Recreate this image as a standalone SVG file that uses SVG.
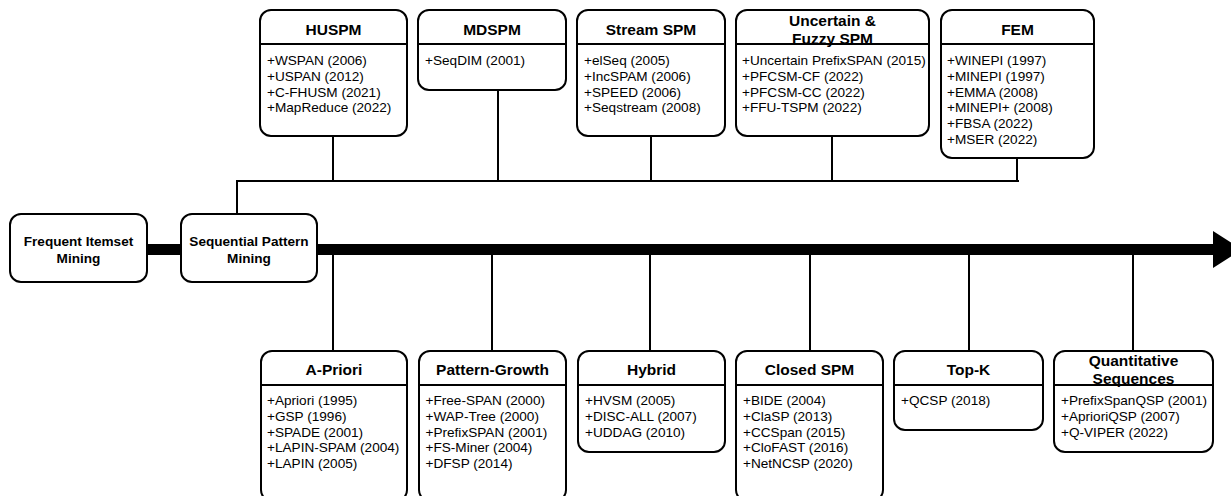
<svg xmlns="http://www.w3.org/2000/svg" width="1231" height="496" viewBox="0 0 1231 496">
  <style>
    .box { fill: #ffffff; stroke: #000000; stroke-width: 2; }
    .div { stroke: #000000; stroke-width: 2; fill: none; }
    .wire { stroke: #000000; stroke-width: 2; fill: none; }
    .hdr { font-family: "Liberation Sans", Arial, Helvetica, sans-serif; font-size: 15.5px; font-weight: bold; text-anchor: middle; fill: #000000; }
    .item { font-family: "Liberation Sans", Arial, Helvetica, sans-serif; font-size: 13.6px; fill: #000000; }
    .lbl { font-family: "Liberation Sans", Arial, Helvetica, sans-serif; font-size: 13.6px; font-weight: bold; text-anchor: middle; fill: #000000; }
  </style>
  <rect width="1231" height="496" fill="#ffffff"/>

  <!-- timeline and branch connectors -->
  <g id="connectors">
    <rect x="140" y="244" width="1075" height="11" fill="#000000"/>
    <polygon points="1213,231 1242,249.5 1213,268" fill="#000000"/>
    <!-- upper bus -->
    <polyline class="wire" points="237,214 237,181 1019,181"/>
    <line class="wire" x1="333" y1="136" x2="333" y2="181"/>
    <line class="wire" x1="498" y1="90" x2="498" y2="181"/>
    <line class="wire" x1="651" y1="136" x2="651" y2="181"/>
    <line class="wire" x1="832" y1="136" x2="832" y2="181"/>
    <line class="wire" x1="1017" y1="158" x2="1017" y2="181"/>
    <!-- lower drops -->
    <line class="wire" x1="333" y1="255" x2="333" y2="351"/>
    <line class="wire" x1="492" y1="255" x2="492" y2="351"/>
    <line class="wire" x1="650" y1="255" x2="650" y2="351"/>
    <line class="wire" x1="810" y1="255" x2="810" y2="351"/>
    <line class="wire" x1="969" y1="255" x2="969" y2="351"/>
    <line class="wire" x1="1133" y1="255" x2="1133" y2="351"/>
  </g>

  <!-- timeline stages -->
  <g id="fim">
    <rect class="box" x="10" y="214" width="137" height="68" rx="11"/>
    <text class="lbl" x="78.5" y="246">Frequent Itemset</text>
    <text class="lbl" x="78.5" y="263">Mining</text>
  </g>
  <g id="spm">
    <rect class="box" x="181" y="214" width="136" height="68" rx="11"/>
    <text class="lbl" x="249" y="246">Sequential Pattern</text>
    <text class="lbl" x="249" y="263">Mining</text>
  </g>

  <!-- upper categories -->
  <g id="huspm">
    <rect class="box" x="260" y="10" width="147" height="126" rx="11"/>
    <line class="div" x1="260" y1="44" x2="407" y2="44"/>
    <text class="hdr" x="333.5" y="35">HUSPM</text>
    <text class="item" x="267" y="65">+WSPAN (2006)</text>
    <text class="item" x="267" y="80.8">+USPAN (2012)</text>
    <text class="item" x="267" y="96.6">+C-FHUSM (2021)</text>
    <text class="item" x="267" y="112.4">+MapReduce (2022)</text>
  </g>
  <g id="mdspm">
    <rect class="box" x="418" y="10" width="148" height="80" rx="11"/>
    <line class="div" x1="418" y1="44" x2="566" y2="44"/>
    <text class="hdr" x="492" y="35">MDSPM</text>
    <text class="item" x="425" y="65">+SeqDIM (2001)</text>
  </g>
  <g id="stream-spm">
    <rect class="box" x="577" y="10" width="148" height="126" rx="11"/>
    <line class="div" x1="577" y1="44" x2="725" y2="44"/>
    <text class="hdr" x="651" y="35">Stream SPM</text>
    <text class="item" x="584" y="65">+elSeq (2005)</text>
    <text class="item" x="584" y="80.8">+IncSPAM (2006)</text>
    <text class="item" x="584" y="96.6">+SPEED (2006)</text>
    <text class="item" x="584" y="112.4">+Seqstream (2008)</text>
  </g>
  <g id="uncertain-fuzzy-spm">
    <rect class="box" x="736" y="10" width="193" height="126" rx="11"/>
    <text class="hdr" x="832.5" y="25.5">Uncertain &amp;</text>
    <text class="hdr" x="832.5" y="43.5">Fuzzy SPM</text>
    <line class="div" x1="736" y1="44" x2="929" y2="44"/>
    <text class="item" x="742" y="65">+Uncertain PrefixSPAN (2015)</text>
    <text class="item" x="742" y="80.8">+PFCSM-CF (2022)</text>
    <text class="item" x="742" y="96.6">+PFCSM-CC (2022)</text>
    <text class="item" x="742" y="112.4">+FFU-TSPM (2022)</text>
  </g>
  <g id="fem">
    <rect class="box" x="941" y="10" width="153" height="148" rx="11"/>
    <line class="div" x1="941" y1="44" x2="1094" y2="44"/>
    <text class="hdr" x="1017.5" y="35">FEM</text>
    <text class="item" x="947" y="65">+WINEPI (1997)</text>
    <text class="item" x="947" y="80.8">+MINEPI (1997)</text>
    <text class="item" x="947" y="96.6">+EMMA (2008)</text>
    <text class="item" x="947" y="112.4">+MINEPI+ (2008)</text>
    <text class="item" x="947" y="128.2">+FBSA (2022)</text>
    <text class="item" x="947" y="144">+MSER (2022)</text>
  </g>

  <!-- lower categories -->
  <g id="a-priori">
    <rect class="box" x="261" y="351" width="146" height="150" rx="11"/>
    <line class="div" x1="261" y1="385" x2="407" y2="385"/>
    <text class="hdr" x="334" y="375">A-Priori</text>
    <text class="item" x="267" y="405">+Apriori (1995)</text>
    <text class="item" x="267" y="420.8">+GSP (1996)</text>
    <text class="item" x="267" y="436.6">+SPADE (2001)</text>
    <text class="item" x="267" y="452.4">+LAPIN-SPAM (2004)</text>
    <text class="item" x="267" y="468.2">+LAPIN (2005)</text>
  </g>
  <g id="pattern-growth">
    <rect class="box" x="419" y="351" width="147" height="150" rx="11"/>
    <line class="div" x1="419" y1="385" x2="566" y2="385"/>
    <text class="hdr" x="492.5" y="375">Pattern-Growth</text>
    <text class="item" x="425.5" y="405">+Free-SPAN (2000)</text>
    <text class="item" x="425.5" y="420.8">+WAP-Tree (2000)</text>
    <text class="item" x="425.5" y="436.6">+PrefixSPAN (2001)</text>
    <text class="item" x="425.5" y="452.4">+FS-Miner (2004)</text>
    <text class="item" x="425.5" y="468.2">+DFSP (2014)</text>
  </g>
  <g id="hybrid">
    <rect class="box" x="578" y="351" width="147" height="101" rx="11"/>
    <line class="div" x1="578" y1="385" x2="725" y2="385"/>
    <text class="hdr" x="651.5" y="375">Hybrid</text>
    <text class="item" x="585" y="405">+HVSM (2005)</text>
    <text class="item" x="585" y="420.8">+DISC-ALL (2007)</text>
    <text class="item" x="585" y="436.6">+UDDAG (2010)</text>
  </g>
  <g id="closed-spm">
    <rect class="box" x="736" y="351" width="147" height="150" rx="11"/>
    <line class="div" x1="736" y1="385" x2="883" y2="385"/>
    <text class="hdr" x="809.5" y="375">Closed SPM</text>
    <text class="item" x="743" y="405">+BIDE (2004)</text>
    <text class="item" x="743" y="420.8">+ClaSP (2013)</text>
    <text class="item" x="743" y="436.6">+CCSpan (2015)</text>
    <text class="item" x="743" y="452.4">+CloFAST (2016)</text>
    <text class="item" x="743" y="468.2">+NetNCSP (2020)</text>
  </g>
  <g id="top-k">
    <rect class="box" x="894" y="351" width="149" height="79" rx="11"/>
    <line class="div" x1="894" y1="385" x2="1043" y2="385"/>
    <text class="hdr" x="968.5" y="375">Top-K</text>
    <text class="item" x="901" y="405">+QCSP (2018)</text>
  </g>
  <g id="quantitative-sequences">
    <rect class="box" x="1054" y="351" width="159" height="101" rx="11"/>
    <text class="hdr" x="1133.5" y="366">Quantitative</text>
    <text class="hdr" x="1133.5" y="384">Sequences</text>
    <line class="div" x1="1054" y1="385" x2="1213" y2="385"/>
    <text class="item" x="1061" y="405">+PrefixSpanQSP (2001)</text>
    <text class="item" x="1061" y="420.8">+AprioriQSP (2007)</text>
    <text class="item" x="1061" y="436.6">+Q-VIPER (2022)</text>
  </g>
</svg>
